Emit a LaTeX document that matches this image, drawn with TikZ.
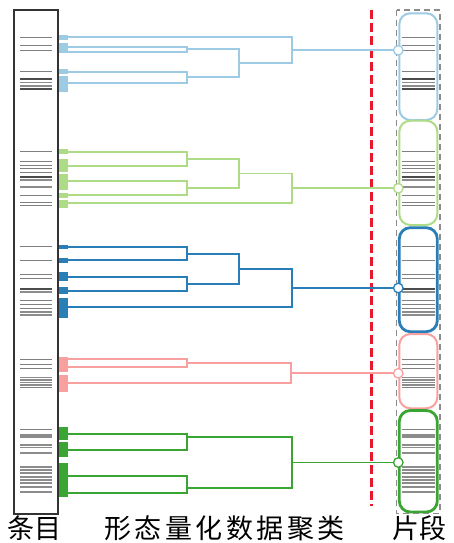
\documentclass[tikz,border=0pt]{standalone}
\usepackage{fontspec}
\newfontfamily\cjk{Noto Sans CJK SC}
\newfontfamily\cjkwide[LetterSpace=13]{Noto Sans CJK SC}
\definecolor{cLB}{HTML}{9CCBE3}
\definecolor{cLG}{HTML}{AEDB86}
\definecolor{cB}{HTML}{2A7EB8}
\definecolor{cP}{HTML}{F7A09F}
\definecolor{cG}{HTML}{3AA533}
\definecolor{cRed}{HTML}{E8192C}
\definecolor{cBox}{HTML}{333333}
\tikzset{
  barT/.style={line width=1pt, draw=black!50},
  barM/.style={line width=1.8pt, draw=black!45},
  barD/.style={line width=2.2pt, draw=black!70},
  tree/.style={line width=1.7pt, draw=#1},
  leafbox/.style={fill=#1, draw=none},
  seg/.style={draw=#1, rounded corners=11pt, minimum width=38pt, inner sep=0pt, fill=none},
  dot/.style={circle, minimum size=9.5pt, inner sep=0pt, fill=white, draw=#1, line width=1.3pt},
  label/.style={font=\cjk\fontsize{27}{29}\selectfont, anchor=base, inner sep=0pt},
  widelabel/.style={font=\cjkwide\fontsize{27}{29}\selectfont, anchor=base, inner sep=0pt},
}
\newcommand\mybars[2]{%
  \foreach \yy/\ss in {38/barT,45.7/barT,51/barT,71.7/barT,79/barD,82.5/barM,86/barM,89/barD,
    151.7/barT,161.7/barT,165/barT,168.5/barT,172/barT,176.7/barD,180/barM,186.7/barM,195/barT,202.3/barT,205.7/barT,
    246.7/barT,260/barT,274.3/barT,278.3/barT,288.8/barD,292/barM,300/barT,304/barT,308.3/barT,312.3/barM,315/barM,
    359.3/barT,364/barT,368.3/barT,377.5/barM,380/barM,382.5/barM,385/barM,387.7/barT,
    429.3/barT,435/barM,437.3/barM,445/barM,447.5/barM,453.3/barM,466.7/barM,470/barM,473.3/barM,476.7/barM,480/barM,483.3/barM,487.3/barM,491.7/barM}
  {\draw[\ss] (#1,\yy) -- (#2,\yy);}%
}
\begin{document}
\begin{tikzpicture}[x=1pt,y=-1pt]
\useasboundingbox (0,0) rectangle (453,543);

% ---------- left column ----------
\mybars{20}{52}
% leaf colour blocks
\fill[leafbox=cLB] (59,35) rectangle (68,40);
\fill[leafbox=cLB] (59,43.3) rectangle (68,53.3);
\fill[leafbox=cLB] (59,69) rectangle (68,74);
\fill[leafbox=cLB] (59,76) rectangle (68,92);
\fill[leafbox=cLG] (59,149) rectangle (68,154);
\fill[leafbox=cLG] (59,159.3) rectangle (68,172.3);
\fill[leafbox=cLG] (59,173.7) rectangle (68,190);
\fill[leafbox=cLG] (59,192.7) rectangle (68,198.3);
\fill[leafbox=cLG] (59,200) rectangle (68,208.3);
\fill[leafbox=cB] (59,245) rectangle (68,249.3);
\fill[leafbox=cB] (59,258.3) rectangle (68,262.7);
\fill[leafbox=cB] (59,272.3) rectangle (68,280.7);
\fill[leafbox=cB] (59,286.7) rectangle (68,294);
\fill[leafbox=cB] (59,297.7) rectangle (68,318.3);
\fill[leafbox=cP] (59,356.7) rectangle (68,371.7);
\fill[leafbox=cP] (59,375) rectangle (68,392.3);
\fill[leafbox=cG] (59,426.7) rectangle (68,440);
\fill[leafbox=cG] (59,441.7) rectangle (68,457.3);
\fill[leafbox=cG] (59,463.3) rectangle (68,496.7);
\draw[cBox, line width=2.2pt] (14,10) rectangle (58,514);

% ---------- coordinates of the dendrograms ----------
% cluster 1 (light blue)
\coordinate (a1) at (68,37.3);
\coordinate (b1) at (68,46.7);
\coordinate (c1) at (68,52);
\coordinate (d1) at (68,71.7);
\coordinate (e1) at (68,82.7);
\coordinate (bc1) at (186.7,49.3);
\coordinate (de1) at (186.7,77.2);
\coordinate (bcde1) at (239.3,63.3);
\coordinate (r1) at (291.7,50.3);
% cluster 2 (light green)
\coordinate (a2) at (68,151.7);
\coordinate (b2) at (68,166);
\coordinate (c2) at (68,181);
\coordinate (d2) at (68,195);
\coordinate (e2) at (68,203.3);
\coordinate (ab2) at (186.7,158.8);
\coordinate (cd2) at (186.7,188);
\coordinate (abcd2) at (239.3,173.4);
\coordinate (r2) at (291.7,188.3);
% cluster 3 (blue)
\coordinate (a3) at (68,247.3);
\coordinate (b3) at (68,260);
\coordinate (c3) at (68,276.7);
\coordinate (d3) at (68,291);
\coordinate (e3) at (68,307.3);
\coordinate (ab3) at (186.7,253.7);
\coordinate (cd3) at (186.7,283.8);
\coordinate (abcd3) at (239.3,268.8);
\coordinate (r3) at (291.7,288);
% cluster 4 (pink)
\coordinate (a4) at (68,359.3);
\coordinate (b4) at (68,367.3);
\coordinate (c4) at (68,383.3);
\coordinate (ab4) at (186.7,363.3);
\coordinate (r4) at (290.7,373.3);
% cluster 5 (green)
\coordinate (a5) at (68,434);
\coordinate (b5) at (68,450);
\coordinate (c5) at (68,476);
\coordinate (d5) at (68,492.7);
\coordinate (ab5) at (186.7,436.7);
\coordinate (cd5) at (186.7,488.3);
\coordinate (r5) at (292.3,462.5);

% ---------- right column ----------
\node[seg=cLB, line width=2pt, minimum height=106.7pt] (s1) at (418.3,66.65) {};
\node[seg=cLG, line width=2pt, minimum height=104.3pt] (s2) at (418.3,172.85) {};
\node[seg=cB, line width=2.8pt, minimum height=104pt] (s3) at (418.3,279.7) {};
\node[seg=cP, line width=2pt, minimum height=74.3pt] (s4) at (418.3,371.15) {};
\node[seg=cG, line width=2.8pt, minimum height=101.5pt] (s5) at (418.3,461.25) {};
\mybars{401.7}{435}
\draw[black!45, line width=1.4pt, dash pattern=on 6pt off 4pt] (396.7,10) rectangle (440,513.3);

% red separator
\coordinate (rt) at (371.7,10);
\coordinate (rb) at (371.7,506);
\draw[cRed, line width=3pt, dash pattern=on 9pt off 4pt] (rt) -- (rb);

% ---------- trees ----------
\draw[tree=cLB] (a1) -| (r1);
\draw[tree=cLB] (b1) -| (bc1);
\draw[tree=cLB] (c1) -| (bc1);
\draw[tree=cLB] (d1) -| (de1);
\draw[tree=cLB] (e1) -| (de1);
\draw[tree=cLB] (bc1) -| (bcde1);
\draw[tree=cLB] (de1) -| (bcde1);
\draw[tree=cLB] (bcde1) -| (r1);

\draw[tree=cLG] (a2) -| (ab2);
\draw[tree=cLG] (b2) -| (ab2);
\draw[tree=cLG] (c2) -| (cd2);
\draw[tree=cLG] (d2) -| (cd2);
\draw[tree=cLG] (ab2) -| (abcd2);
\draw[tree=cLG] (cd2) -| (abcd2);
\draw[tree=cLG] (abcd2) -| (r2);
\draw[tree=cLG] (e2) -| (r2);

\draw[tree=cB] (a3) -| (ab3);
\draw[tree=cB] (b3) -| (ab3);
\draw[tree=cB] (c3) -| (cd3);
\draw[tree=cB] (d3) -| (cd3);
\draw[tree=cB] (ab3) -| (abcd3);
\draw[tree=cB] (cd3) -| (abcd3);
\draw[tree=cB] (abcd3) -| (r3);
\draw[tree=cB] (e3) -| (r3);

\draw[tree=cP] (a4) -| (ab4);
\draw[tree=cP] (b4) -| (ab4);
\draw[tree=cP] (ab4) -| (r4);
\draw[tree=cP] (c4) -| (r4);

\draw[tree=cG] (a5) -| (ab5);
\draw[tree=cG] (b5) -| (ab5);
\draw[tree=cG] (c5) -| (cd5);
\draw[tree=cG] (d5) -| (cd5);
\draw[tree=cG] (ab5) -| (r5);
\draw[tree=cG] (cd5) -| (r5);

% root connectors to the segment dots
\node[dot=cLB] (k1) at (398.3,50.3) {};
\node[dot=cLG] (k2) at (398.3,188.3) {};
\node[dot=cB] (k3) at (398.3,288) {};
\node[dot=cP] (k4) at (398.3,373.3) {};
\node[dot=cG] (k5) at (398.3,462.5) {};
\draw[tree=cLB] (r1) -- (k1);
\draw[tree=cLG] (r2) -- (k2);
\draw[tree=cB] (r3) -- (k3);
\draw[tree=cP] (r4) -- (k4);
\draw[tree=cG] (r5) -- (k5);

% ---------- labels ----------
\node[label] (t1) at (35,538) {条目};
\node[widelabel] (t2) at (224.5,538) {形态量化数据聚类};
\node[label] (t3) at (419.5,538) {片段};
\end{tikzpicture}
\end{document}
